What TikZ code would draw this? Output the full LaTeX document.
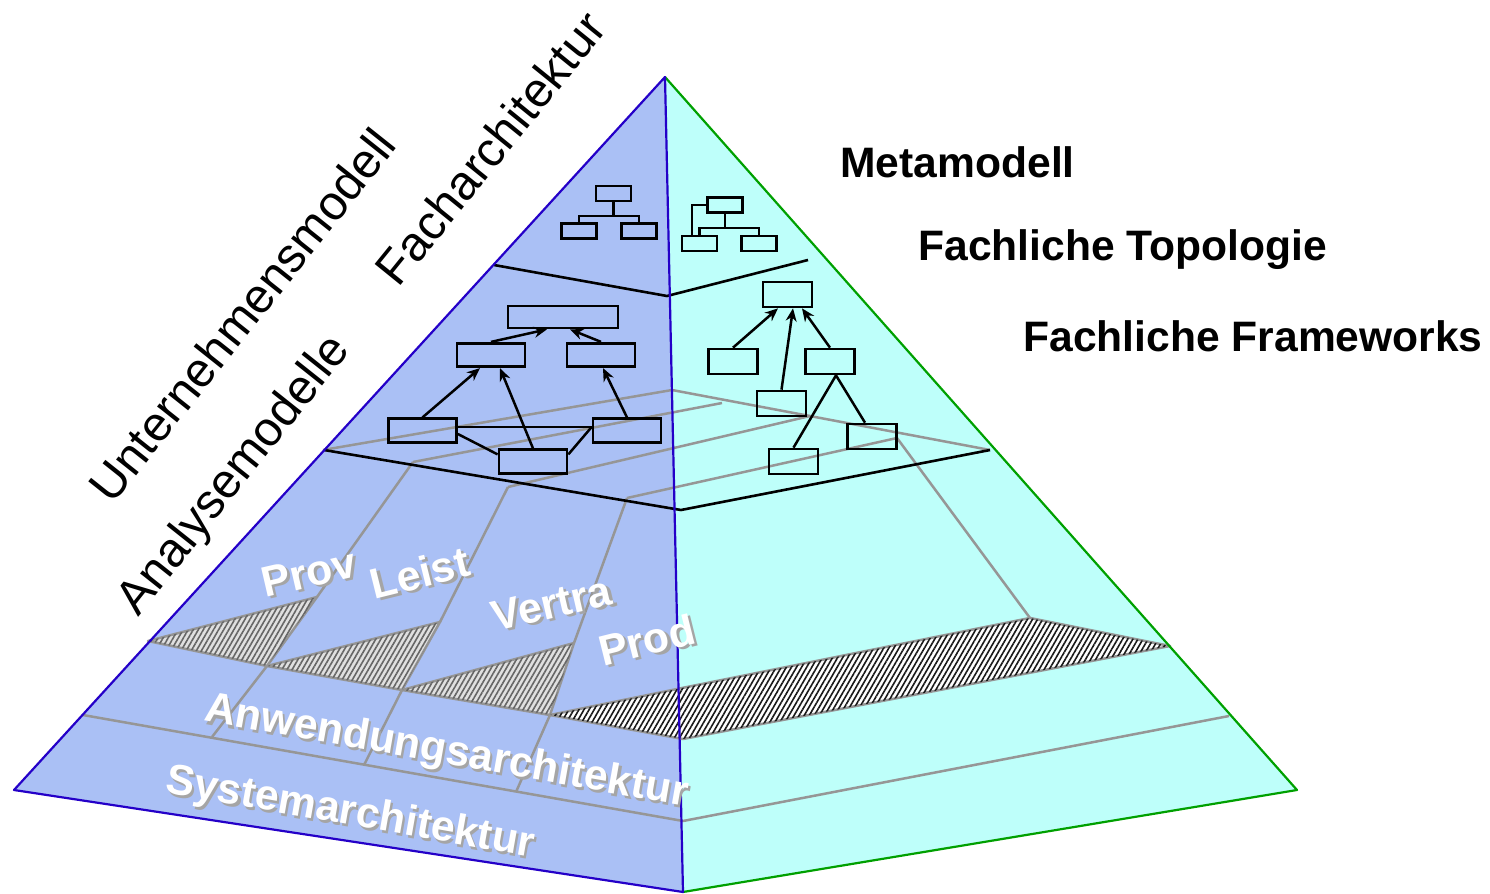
\documentclass[tikz,border=0pt]{standalone}
\usepackage{fontspec}
\setmainfont{Liberation Sans}
\usetikzlibrary{arrows.meta,patterns.meta}
\definecolor{faceL}{RGB}{170,192,245}
\definecolor{faceR}{RGB}{190,255,250}
\definecolor{edgeL}{RGB}{36,0,200}
\definecolor{edgeR}{RGB}{0,160,0}
\definecolor{grid}{RGB}{150,150,150}
\definecolor{shadowgray}{RGB}{165,165,165}
% white lettering with a soft grey drop shadow
\newcommand{\shadowed}[1]{\makebox[0pt][l]{\kern1.3pt\raisebox{-1.3pt}{\color{shadowgray}#1}}{\color{white}#1}}
\begin{document}
\begin{tikzpicture}[x=0.5pt,y=-0.5pt,
  gridline/.style={draw=grid,line width=1.25pt,line join=round},
  layerline/.style={draw=black,line width=1.3pt,line join=miter},
  hatchL/.style={fill=black!12,draw=grid,line width=1.25pt,line join=round,
    postaction={pattern={Lines[angle=60,distance=2.2pt,line width=0.8pt]},pattern color=black!60}},
  hatchR/.style={fill=white,draw=grid,line width=1.25pt,line join=round,
    postaction={pattern={Lines[angle=60,distance=2.2pt,line width=0.8pt]},pattern color=black!90}},
  tbox/.style={draw=black,line width=1.3pt,inner sep=0pt,minimum width=17.5pt,minimum height=7.5pt},
  mbox/.style={draw=black,line width=1.35pt,inner sep=0pt,minimum width=34pt,minimum height=11.75pt},
  rbox/.style={draw=black,line width=1.35pt,inner sep=0pt,minimum width=24.5pt,minimum height=12.5pt},
  conn/.style={draw=black,line width=1.25pt},
  arr/.style={conn,-{Stealth[length=6.5pt,width=5.5pt]}},
  bigtext/.style={font=\fontsize{24.2}{28}\selectfont,inner sep=0pt},
  sidetext/.style={font=\bfseries\fontsize{21.3}{24}\selectfont,inner sep=0pt,anchor=base west},
  wlabel/.style={font=\bfseries\fontsize{21.4}{24}\selectfont,inner sep=0pt}
]
\useasboundingbox (0,0) rectangle (1490,894);

% pyramid corners
\coordinate (apex) at (665,77);
\coordinate (bl) at (14,790);
\coordinate (bm) at (683,892);
\coordinate (br) at (1297,790);

% the two faces
\fill[faceL] (apex) -- (bl) -- (bm) -- cycle;
\fill[faceR] (apex) -- (br) -- (bm) -- cycle;

% hatched column bases
\path[hatchL] (148,641) -- (317,597) -- (267,666) -- cycle;
\path[hatchL] (267,666) -- (440,622) -- (402,690) -- cycle;
\path[hatchL] (402,690) -- (574,643) -- (550,715) -- cycle;
\path[hatchR] (550,715) -- (682,688) -- (1030,618) -- (1170,646) -- (683,739) -- cycle;

% grey construction lines
\draw[gridline] (323,450) -- (672,390) -- (990,450);
\draw[gridline] (413,462) -- (722,403);
\draw[gridline] (508,487) -- (810,416);
\draw[gridline] (627,498) -- (897,438);
\draw[gridline] (413,462) -- (317,597);
\draw[gridline] (267,666) -- (212,737);
\draw[gridline] (508,487) -- (440,622);
\draw[gridline] (402,690) -- (364,765);
\draw[gridline] (627,498) -- (574,643);
\draw[gridline] (550,715) -- (516,792);
\draw[gridline] (897,438) -- (1030,618);
\draw[gridline] (83,715) -- (683,821) -- (1229,716);

% black layer boundaries
\draw[layerline] (494,265) -- (667,296) -- (808,260);
\draw[layerline] (324,450) -- (681,510) -- (990,450);

% pyramid outline
\draw[edgeR,line width=1.1pt,line join=round] (apex) -- (br) -- (bm);
\draw[edgeL,line width=1.1pt,line join=round] (apex) -- (bl) -- (bm) -- cycle;

% small trees (Metamodell)
\node[tbox] (lt0) at (613.5,193.5) {};
\node[tbox] (lt1) at (579,231) {};
\node[tbox] (lt2) at (639,231) {};
\coordinate (ltj) at (613.5,216);
\draw[conn] (lt0.south) -- (ltj);
\draw[conn] (lt1.north) |- (ltj) -| (lt2.north);

\node[tbox] (rt0) at (725,205) {};
\node[tbox] (rt1) at (699.5,243.5) {};
\node[tbox] (rt2) at (759,243.5) {};
\coordinate (rtj) at (725,228);
\draw[conn] (rt0.south) -- (rtj);
\draw[conn] (rt1.north) |- (rtj) -| (rt2.north);
\draw[conn] (rt0.west) -| ([xshift=-3.75pt]rt1.north);

% topology graph
\node[mbox,minimum width=55pt,minimum height=11pt] (ma) at (563,317) {};
\node[mbox] (mb) at (491,355) {};
\node[mbox] (mc) at (601,355) {};
\node[mbox] (md) at (422.5,430.5) {};
\node[mbox] (me) at (627,430.5) {};
\node[mbox] (mf) at (533,461.5) {};
\draw[arr] (mb.north) -- ([xshift=-8pt]ma.south);
\draw[arr] (mc.north) -- ([xshift=3.5pt]ma.south);
\draw[arr] (md.north) -- ([xshift=-5.5pt]mb.south);
\draw[arr] (mf.north) -- ([xshift=4.5pt]mb.south);
\draw[arr] (me.north) -- ([xshift=1pt]mc.south);
\draw[conn] ([yshift=1.75pt]md.east) -- ([yshift=1.75pt]me.west);
\draw[conn] ([yshift=-1.75pt]md.east) -- ([yshift=-3pt]mf.north west);
\draw[conn] ([yshift=-3pt]mf.north east) -- ([yshift=1.75pt]me.west);

% framework graph
\node[rbox] (ra) at (787.5,294.5) {};
\node[rbox] (rb) at (733,361.5) {};
\node[rbox] (rc) at (830,361.5) {};
\node[rbox] (rd) at (781.5,403.5) {};
\node[rbox] (re) at (872,436.5) {};
\node[rbox] (rf) at (793.5,461.5) {};
\draw[arr] (rb.north) -- ([xshift=-4.75pt]ra.south);
\draw[arr] (rd.north) -- ([xshift=2.75pt]ra.south);
\draw[arr] (rc.north) -- ([xshift=7.25pt]ra.south);
\draw[conn] ([xshift=3pt]rc.south) -- (rf.north);
\draw[conn] ([xshift=3pt]rc.south) -- ([xshift=-3.5pt]re.north);

% rotated headings on the left
\node[bigtext,rotate=51.5] (unt) at (242,315) {Unternehmensmodell};
\node[bigtext,rotate=51] (fach) at (490,148) {Facharchitektur};
\node[bigtext,rotate=51.5] (anal) at (235,476) {Analysemodelle};

% layer names on the right
\node[sidetext] (meta) at (840,177) {Metamodell};
\node[sidetext] (topo) at (918,260) {Fachliche Topologie};
\node[sidetext] (frame) at (1023,351) {Fachliche Frameworks};

% column and layer names on the face
\node[wlabel,rotate=13] (prov) at (309,574) {\shadowed{Prov}};
\node[wlabel,rotate=14] (leist) at (420,574) {\shadowed{Leist}};
\node[wlabel,rotate=13] (vertra) at (552,605) {\shadowed{Vertra}};
\node[wlabel,rotate=14] (prod) at (647,641) {\shadowed{Prod}};
\node[wlabel,rotate=-10] (anw) at (446,754) {\shadowed{Anwendungsarchitektur}};
\node[wlabel,rotate=-10] (sys) at (350,815) {\shadowed{Systemarchitektur}};
\end{tikzpicture}
\end{document}
